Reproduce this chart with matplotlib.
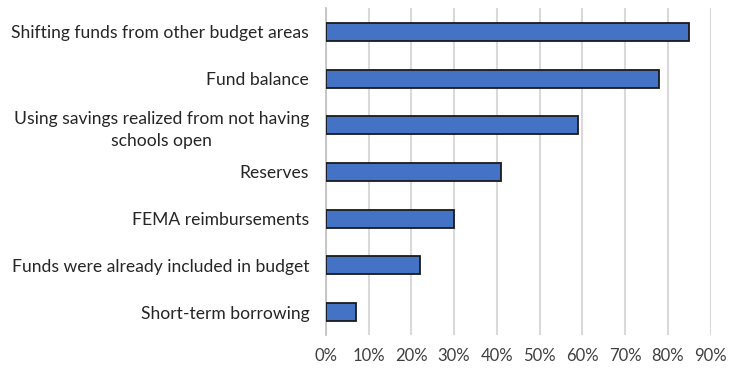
import matplotlib.pyplot as plt
from matplotlib.ticker import PercentFormatter

# funding sources, listed top to bottom
fuentes = [
    "Shifting funds from other budget areas",
    "Fund balance",
    "Using savings realized from not having\nschools open",
    "Reserves",
    "FEMA reimbursements",
    "Funds were already included in budget",
    "Short-term borrowing",
]
porcentajes = [85, 78, 59, 41, 30, 22, 7]
ticks_x = [0, 10, 20, 30, 40, 50, 60, 70, 80, 90]

plt.rcParams['font.family'] = ['Lato', 'DejaVu Sans']

fig = plt.figure(figsize=(7.44, 3.69), dpi=100)
ax = fig.add_axes([0.438, 0.091, 0.517, 0.886])

pos = list(range(len(fuentes)))
ax.barh(pos, porcentajes, height=0.385, color='#4472C4',
        edgecolor='#1a1a1a', linewidth=1.3, zorder=3)

ax.set_yticks(pos)
ax.set_yticklabels(fuentes, fontsize=12.6, color='#262626', linespacing=1.5,
                   multialignment='center')
ax.set_ylim(len(fuentes) - 0.5, -0.5)

ax.set_xlim(0, 90)
ax.set_xticks(ticks_x)
ax.xaxis.set_major_formatter(PercentFormatter(decimals=0))
ax.tick_params(axis='x', labelsize=12, labelcolor='#404040', length=0, pad=9)
ax.tick_params(axis='y', length=0, pad=12)

ax.grid(axis='x', color='#d9d9d9', linewidth=1.5, zorder=0)
for lado in ['top', 'right', 'bottom']:
    ax.spines[lado].set_visible(False)
ax.spines['left'].set_color('#bfbfbf')
ax.spines['left'].set_linewidth(1.2)

fig.savefig('out.png', dpi=100)
